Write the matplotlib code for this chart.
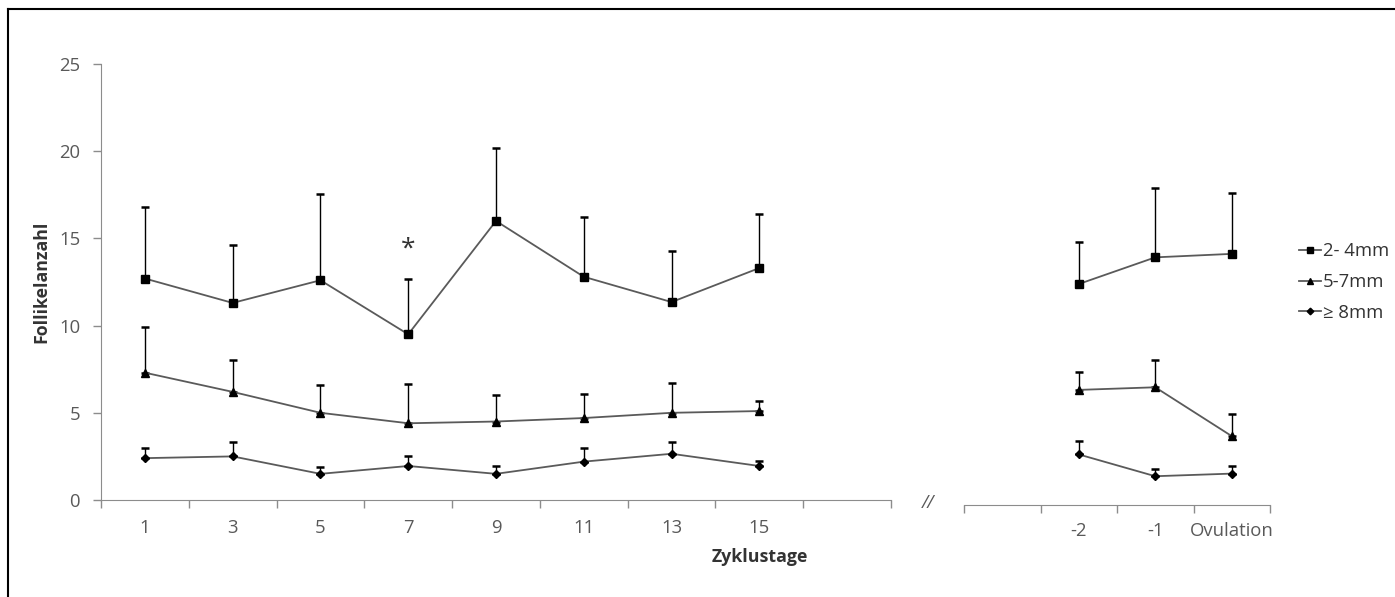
import matplotlib
matplotlib.use("Agg")
import matplotlib.pyplot as plt
from matplotlib.lines import Line2D
import numpy as np

plt.rcParams['font.family'] = ['Open Sans', 'DejaVu Sans']

# Zyklustage 1..15 (letzte Kategorie leer)
tage = ['1', '3', '5', '7', '9', '11', '13', '15', '']
# Tage vor Ovulation (erste Kategorie leer)
ov_tage = ['', '-2', '-1', 'Ovulation']

serien = ['2- 4mm', '5-7mm', '≥ 8mm']

# Mittelwerte und SD (nur nach oben) - Zyklustage
mw_2_4 = [12.7, 11.3, 12.6, 9.5, 16.0, 12.8, 11.35, 13.3]
sd_2_4 = [4.1, 3.3, 4.95, 3.2, 4.2, 3.4, 2.95, 3.1]
mw_5_7 = [7.3, 6.2, 5.0, 4.4, 4.5, 4.7, 5.0, 5.1]
sd_5_7 = [2.6, 1.8, 1.6, 2.25, 1.5, 1.4, 1.7, 0.6]
mw_8 = [2.4, 2.5, 1.5, 1.95, 1.5, 2.2, 2.65, 1.95]
sd_8 = [0.6, 0.8, 0.4, 0.55, 0.45, 0.8, 0.65, 0.3]

# Tage vor Ovulation (-2, -1, Ovulation)
ov_mw_2_4 = [12.67, 14.2, 14.4]
ov_sd_2_4 = [2.4, 4.0, 3.5]
ov_mw_5_7 = [6.6, 6.75, 3.95]
ov_sd_5_7 = [1.0, 1.55, 1.25]
ov_mw_8 = [2.9, 1.65, 1.8]
ov_sd_8 = [0.75, 0.4, 0.45]

marker = ['s', '^', 'D']
msize = [5.5, 6, 4.2]
linie = '#5a5a5a'
achse = '#8c8c8c'
schrift = '#595959'
fs = 13.3

W, H = 1395, 597
fig = plt.figure(figsize=(W / 100, H / 100), dpi=100)

ax = fig.add_axes([101 / W, (H - 500) / H, 790 / W, 436 / H])
ax2 = fig.add_axes([964 / W, (H - 505) / H, 306 / W, 436 / H])


def zeichne(a, x, werte, fehler):
    for mw, sd, m, ms, lab in zip(werte, fehler, marker, msize, serien):
        a.errorbar(x, mw, yerr=[np.zeros(len(sd)), sd], fmt='none',
                   ecolor='black', elinewidth=1, capsize=3.2, capthick=1.8)
        a.plot(x, mw, color=linie, lw=1.3, marker=m, ms=ms,
               mfc='black', mec='black', label=lab)


x1 = np.arange(len(mw_2_4))
zeichne(ax, x1, [mw_2_4, mw_5_7, mw_8], [sd_2_4, sd_5_7, sd_8])
x2 = np.arange(1, len(ov_tage))
zeichne(ax2, x2, [ov_mw_2_4, ov_mw_5_7, ov_mw_8],
        [ov_sd_2_4, ov_sd_5_7, ov_sd_8])

# Achsen links
ax.set_xlim(-0.5, len(tage) - 0.5)
ax.set_ylim(0, 25)
ax.set_yticks([0, 5, 10, 15, 20, 25])
ax.set_xticks(np.arange(len(tage) + 1) - 0.5)
ax.set_xticklabels([])
ax.set_xticks(np.arange(len(tage)), minor=True)
ax.set_xticklabels(tage, minor=True)
ax.tick_params(axis='x', which='major', length=6, color=achse, width=1)
ax.tick_params(axis='x', which='minor', length=0, pad=14, labelsize=fs,
               labelcolor=schrift)
ax.tick_params(axis='y', length=6, color=achse, width=1, pad=9,
               labelsize=fs, labelcolor=schrift)
for s in ['top', 'right']:
    ax.spines[s].set_visible(False)
for s in ['left', 'bottom']:
    ax.spines[s].set_color(achse)
ax.set_ylabel('Follikelanzahl', fontsize=12.8, fontweight='bold',
              color='#333333', labelpad=6)
ax.text(3, 14.4, '*', ha='center', va='center', fontsize=19, color='#333333')

# Achsen rechts
ax2.set_xlim(-0.5, len(ov_tage) - 0.5)
ax2.set_ylim(0, 25)
ax2.set_yticks([])
ax2.set_xticks(np.arange(len(ov_tage) + 1) - 0.5)
ax2.set_xticklabels([])
ax2.set_xticks(np.arange(len(ov_tage)), minor=True)
ax2.set_xticklabels(ov_tage, minor=True)
ax2.tick_params(axis='x', which='major', length=6, color=achse, width=1)
ax2.tick_params(axis='x', which='minor', length=0, pad=12, labelsize=fs,
                labelcolor=schrift)
for s in ['top', 'right', 'left']:
    ax2.spines[s].set_visible(False)
ax2.spines['bottom'].set_color(achse)

fig.text(760 / W, 1 - 557 / H, 'Zyklustage', ha='center', va='center',
         fontsize=12.8, fontweight='bold', color='#333333')
fig.text(928 / W, 1 - 503 / H, '//', ha='center', va='center',
         fontsize=13, color=schrift, style='italic')

handles, labels = ax.get_legend_handles_labels()
fig.legend(handles, labels, loc='center left',
           bbox_to_anchor=(1282 / W, 1 - 282 / H), frameon=False,
           fontsize=fs, handlelength=1.2, handletextpad=0.1,
           labelspacing=0.7, labelcolor='#333333', markerscale=0.8)

# Rahmen
fig.add_artist(Line2D([8 / W, 8 / W], [0, 1 - 9 / H], color='black', lw=1.5))
fig.add_artist(Line2D([8 / W, 1], [1 - 9 / H, 1 - 9 / H], color='black', lw=1.5))

fig.savefig('out.png', dpi=100)
